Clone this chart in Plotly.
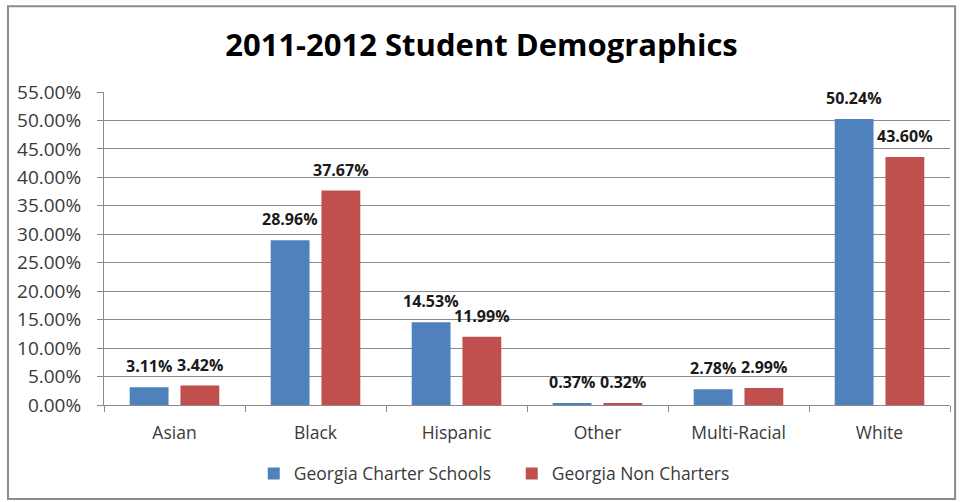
import plotly.graph_objects as go

categories = ["Asian", "Black", "Hispanic", "Other", "Multi-Racial", "White"]
charter = [3.11, 28.96, 14.53, 0.37, 2.78, 50.24]
non_charter = [3.42, 37.67, 11.99, 0.32, 2.99, 43.60]
series_names = ["Georgia Charter Schools", "Georgia Non Charters"]
y_ticks = [0, 5, 10, 15, 20, 25, 30, 35, 40, 45, 50, 55]

FONT = "Open Sans, Calibri, sans-serif"
BLUE = "#4F81BD"
RED = "#C0504D"
TEXT = "#3a3a3a"

fig = go.Figure()
for name, vals, color in [(series_names[0], charter, BLUE), (series_names[1], non_charter, RED)]:
    fig.add_trace(go.Bar(
        x=categories,
        y=[v / 100 for v in vals],
        name=name,
        marker=dict(color=color, line=dict(width=0)),
    ))

# value labels above each bar
for vals, shift in [(charter, -25.5), (non_charter, 25.5)]:
    for cat, v in zip(categories, vals):
        fig.add_annotation(
            x=cat, y=v / 100, text=f"<b>{v:.2f}%</b>",
            xref="x", yref="y", showarrow=False,
            xshift=shift, yanchor="bottom", yshift=8,
            font=dict(family=FONT, size=16, color="#1a1a1a"),
        )

# chart frame
fig.add_shape(type="rect", xref="paper", yref="paper",
              x0=-0.1135, x1=1.006, y0=-0.30, y1=1.274,
              line=dict(color="#8c8c8c", width=2), layer="below")

fig.update_layout(
    width=963, height=502,
    margin=dict(l=104, r=13, t=92, b=96),
    paper_bgcolor="white", plot_bgcolor="white",
    title=dict(text="<b>2011-2012 Student Demographics</b>", x=0.5, xanchor="center",
               y=0.911, yanchor="middle",
               font=dict(family=FONT, size=31, color="#000000")),
    barmode="group", bargap=0.28, bargroupgap=0.235,
    showlegend=True,
    legend=dict(orientation="h", x=0.177, xanchor="left", y=-0.215, yanchor="middle",
                bgcolor="rgba(0,0,0,0)",
                font=dict(family=FONT, size=17.5, color=TEXT),
                itemwidth=30, tracegroupgap=0,
                entrywidth=213, entrywidthmode="pixels"),
    font=dict(family=FONT),
)
fig.update_yaxes(
    range=[0, 0.55], tickvals=[t / 100 for t in y_ticks], tickformat=".2%",
    showgrid=True, gridcolor="#8a8a8a", gridwidth=1,
    showline=True, linecolor="#8a8a8a", linewidth=1,
    ticks="outside", ticklen=6, tickcolor="#8a8a8a", ticklabelstandoff=12,
    tickfont=dict(family=FONT, size=19, color=TEXT),
    zeroline=False, fixedrange=True,
)
fig.update_xaxes(
    showline=True, linecolor="#8a8a8a", linewidth=1,
    ticks="outside", ticklen=6, tickcolor="#8a8a8a", tickson="boundaries",
    ticklabelstandoff=12,
    tickfont=dict(family=FONT, size=17.5, color=TEXT),
    fixedrange=True,
)

fig.write_html("out.html")
